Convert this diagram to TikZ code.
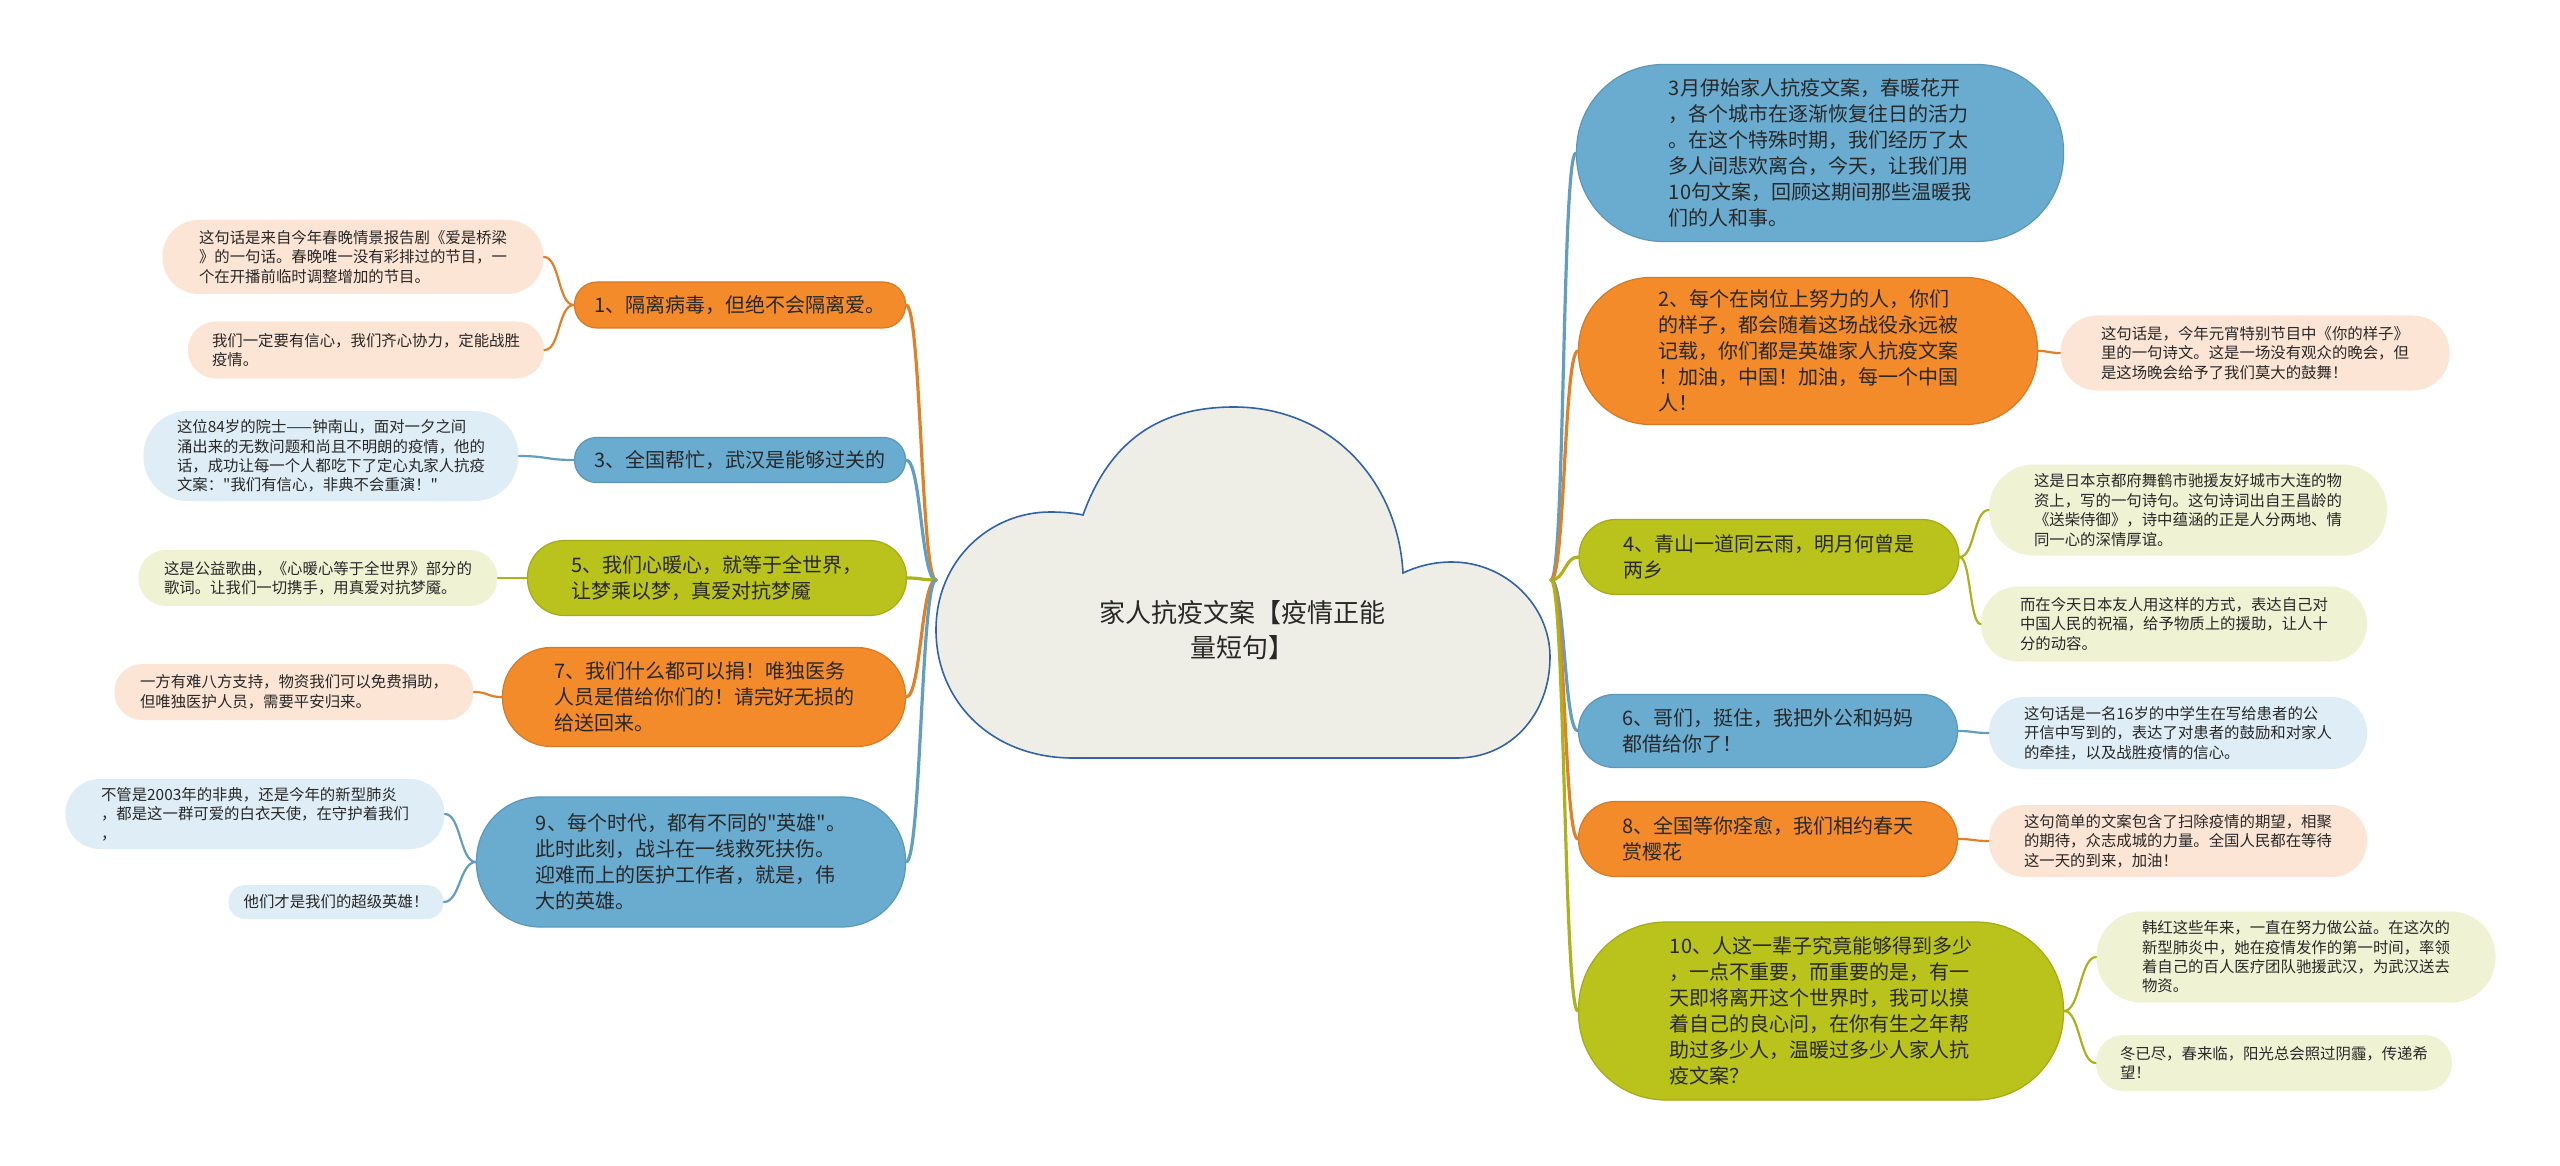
\documentclass[tikz,border=0pt]{standalone}
\usepackage{fontspec}
\newfontfamily\cjkfont{Noto Sans CJK SC}
\usetikzlibrary{positioning}
\definecolor{mapOrange}{RGB}{243,139,42}
\definecolor{mapBlue}{RGB}{106,172,208}
\definecolor{mapGreen}{RGB}{186,194,28}
\definecolor{leafOrange}{RGB}{252,229,213}
\definecolor{leafBlue}{RGB}{222,237,246}
\definecolor{leafGreen}{RGB}{240,242,212}
\definecolor{cloudFill}{RGB}{238,238,230}
\definecolor{cloudLine}{RGB}{50,100,165}
\definecolor{inkGrey}{RGB}{40,40,40}

\begin{document}
\begin{tikzpicture}[
  x=0.5pt, y=-0.5pt,
  boxsize/.style 2 args={minimum width=#1, minimum height=#2, rounded corners=#2*0.49},
  topic/.style={draw=#1!88!black, fill=#1, line width=0.6pt, align=left, inner sep=0pt,
                text=inkGrey, font=\cjkfont\fontsize{10pt}{13pt}\selectfont},
  leaf/.style={fill=#1, align=left, inner sep=0pt, text=inkGrey,
               font=\cjkfont\fontsize{7.7pt}{9.7pt}\selectfont},
  link/.style={draw=#1!92!black, line width=1.6pt, line cap=round},
  twig/.style={draw=#1!92!black, line width=1.1pt, line cap=round}
]
\fill[white] (0,0) rectangle (2560,1166);
\useasboundingbox (0,0) rectangle (2560,1166);

% centre cloud
\draw[fill=cloudFill, draw=cloudLine, line width=0.8pt]
  (1073,758) .. controls (990,758) and (936,700) .. (936,630)
  .. controls (936,560) and (990,512) .. (1050,512)
  .. controls (1062,512) and (1074,513) .. (1083,515)
  .. controls (1110,440) and (1160,407) .. (1234,407)
  .. controls (1330,407) and (1398,480) .. (1403,573)
  .. controls (1420,565) and (1436,562) .. (1452,562)
  .. controls (1505,562) and (1550,605) .. (1550,657)
  .. controls (1550,715) and (1510,758) .. (1457,758) -- cycle;
\node[align=center, text=inkGrey, font=\cjkfont\fontsize{13pt}{17.5pt}\selectfont]
  (title) at (1242,630) {家人抗疫文案【疫情正能\\量短句】};
\coordinate (rootL) at (936,580);
\coordinate (rootR) at (1551,580);

% left topics
\node[topic=mapOrange, boxsize={165.5pt}{23pt}] (n1) at (740,305) {1、隔离病毒，但绝不会隔离爱。};
\node[topic=mapBlue, boxsize={165.5pt}{22.5pt}] (n3) at (740,460) {3、全国帮忙，武汉是能够过关的};
\node[topic=mapGreen, boxsize={189.5pt}{37.5pt}] (n5) at (717,578) {5、我们心暖心，就等于全世界，\\让梦乘以梦，真爱对抗梦魇};
\node[topic=mapOrange, boxsize={201.5pt}{49.5pt}] (n7) at (704,697) {7、我们什么都可以捐！唯独医务\\人员是借给你们的！请完好无损的\\给送回来。};
\node[topic=mapBlue, boxsize={214.5pt}{65pt}] (n9) at (691,862) {9、每个时代，都有不同的"英雄"。\\此时此刻，战斗在一线救死扶伤。\\迎难而上的医护工作者，就是，伟\\大的英雄。};

% left leaves
\node[leaf=leafOrange, boxsize={190.5pt}{37pt}] (l1a) at (353,257) {这句话是来自今年春晚情景报告剧《爱是桥梁\\》的一句话。春晚唯一没有彩排过的节目，一\\个在开播前临时调整增加的节目。};
\node[leaf=leafOrange, boxsize={178pt}{28.5pt}] (l1b) at (366,350) {我们一定要有信心，我们齐心协力，定能战胜\\疫情。};
\node[leaf=leafBlue, boxsize={187.5pt}{45pt}] (l3a) at (331,456) {这位84岁的院士——钟南山，面对一夕之间\\涌出来的无数问题和尚且不明朗的疫情，他的\\话，成功让每一个人都吃下了定心丸家人抗疫\\文案："我们有信心，非典不会重演！"};
\node[leaf=leafGreen, boxsize={179.5pt}{28pt}] (l5a) at (318,578) {这是公益歌曲，《心暖心等于全世界》部分的\\歌词。让我们一切携手，用真爱对抗梦魇。};
\node[leaf=leafOrange, boxsize={179.5pt}{28pt}] (l7a) at (294,692) {一方有难八方支持，物资我们可以免费捐助，\\但唯独医护人员，需要平安归来。};
\node[leaf=leafBlue, boxsize={189.5pt}{35pt}] (l9a) at (255,814) {不管是2003年的非典，还是今年的新型肺炎\\，都是这一群可爱的白衣天使，在守护着我们\\，};
\node[leaf=leafBlue, boxsize={107.5pt}{17pt}] (l9b) at (336,902) {他们才是我们的超级英雄！};

% right topics
\node[topic=mapBlue, boxsize={243.5pt}{88.5pt}] (r0) at (1820,153) {3月伊始家人抗疫文案，春暖花开\\，各个城市在逐渐恢复往日的活力\\。在这个特殊时期，我们经历了太\\多人间悲欢离合，今天，让我们用\\10句文案，回顾这期间那些温暖我\\们的人和事。};
\node[topic=mapOrange, boxsize={229.5pt}{73.5pt}] (r2) at (1808,351) {2、每个在岗位上努力的人，你们\\的样子，都会随着这场战役永远被\\记载，你们都是英雄家人抗疫文案\\！加油，中国！加油，每一个中国\\人！};
\node[topic=mapGreen, boxsize={190pt}{37.5pt}] (r4) at (1769,557) {4、青山一道同云雨，明月何曾是\\两乡};
\node[topic=mapBlue, boxsize={189.5pt}{36.5pt}] (r6) at (1768,731) {6、哥们，挺住，我把外公和妈妈\\都借给你了！};
\node[topic=mapOrange, boxsize={189.5pt}{37.5pt}] (r8) at (1768,839) {8、全国等你痊愈，我们相约春天\\赏樱花};
\node[topic=mapGreen, boxsize={242.5pt}{89pt}] (r10) at (1821,1011) {10、人这一辈子究竟能够得到多少\\，一点不重要，而重要的是，有一\\天即将离开这个世界时，我可以摸\\着自己的良心问，在你有生之年帮\\助过多少人，温暖过多少人家人抗\\疫文案？};

% right leaves
\node[leaf=leafOrange, boxsize={194.5pt}{37.5pt}] (r2a) at (2255,353) {这句话是，今年元宵特别节目中《你的样子》\\里的一句诗文。这是一场没有观众的晚会，但\\是这场晚会给予了我们莫大的鼓舞！};
\node[leaf=leafGreen, boxsize={199pt}{45.5pt}] (r4a) at (2188,510) {这是日本京都府舞鹤市驰援友好城市大连的物\\资上，写的一句诗句。这句诗词出自王昌龄的\\《送柴侍御》，诗中蕴涵的正是人分两地、情\\同一心的深情厚谊。};
\node[leaf=leafGreen, boxsize={193pt}{37.5pt}] (r4b) at (2174,624) {而在今天日本友人用这样的方式，表达自己对\\中国人民的祝福，给予物质上的援助，让人十\\分的动容。};
\node[leaf=leafBlue, boxsize={189pt}{36pt}] (r6a) at (2178,733) {这句话是一名16岁的中学生在写给患者的公\\开信中写到的，表达了对患者的鼓励和对家人\\的牵挂，以及战胜疫情的信心。};
\node[leaf=leafOrange, boxsize={189pt}{36pt}] (r8a) at (2178,841) {这句简单的文案包含了扫除疫情的期望，相聚\\的期待，众志成城的力量。全国人民都在等待\\这一天的到来，加油！};
\node[leaf=leafGreen, boxsize={199.5pt}{45.5pt}] (r10a) at (2296,957) {韩红这些年来，一直在努力做公益。在这次的\\新型肺炎中，她在疫情发作的第一时间，率领\\着自己的百人医疗团队驰援武汉，为武汉送去\\物资。};
\node[leaf=leafGreen, boxsize={178pt}{28pt}] (r10b) at (2274,1063) {冬已尽，春来临，阳光总会照过阴霾，传递希\\望！};

% branches from the cloud
\draw[link=mapOrange] (rootL) .. controls +(-15,0) and +(15,0) .. (n1.east);
\draw[link=mapBlue] (rootL) .. controls +(-15,0) and +(15,0) .. (n3.east);
\draw[link=mapGreen] (rootL) .. controls +(-15,0) and +(15,0) .. (n5.east);
\draw[link=mapOrange] (rootL) .. controls +(-15,0) and +(15,0) .. (n7.east);
\draw[link=mapBlue] (rootL) .. controls +(-15,0) and +(15,0) .. (n9.east);
\draw[link=mapBlue] (rootR) .. controls +(14,0) and +(-14,0) .. (r0.west);
\draw[link=mapOrange] (rootR) .. controls +(14,0) and +(-14,0) .. (r2.west);
\draw[link=mapGreen] (rootR) .. controls +(14,0) and +(-14,0) .. (r4.west);
\draw[link=mapBlue] (rootR) .. controls +(14,0) and +(-14,0) .. (r6.west);
\draw[link=mapOrange] (rootR) .. controls +(14,0) and +(-14,0) .. (r8.west);
\draw[link=mapGreen] (rootR) .. controls +(14,0) and +(-14,0) .. (r10.west);

% twigs to the notes
\draw[twig=mapOrange] (n1.west) .. controls +(-16,0) and +(16,0) .. (l1a.east);
\draw[twig=mapOrange] (n1.west) .. controls +(-16,0) and +(16,0) .. (l1b.east);
\draw[twig=mapBlue] (n3.west) .. controls +(-28,0) and +(28,0) .. (l3a.east);
\draw[twig=mapGreen] (n5.west) .. controls +(-14,0) and +(14,0) .. (l5a.east);
\draw[twig=mapOrange] (n7.west) .. controls +(-15,0) and +(15,0) .. (l7a.east);
\draw[twig=mapBlue] (n9.west) .. controls +(-16,0) and +(16,0) .. (l9a.east);
\draw[twig=mapBlue] (n9.west) .. controls +(-16,0) and +(16,0) .. (l9b.east);
\draw[twig=mapOrange] (r2.east) .. controls +(11,0) and +(-11,0) .. (r2a.west);
\draw[twig=mapGreen] (r4.east) .. controls +(15,0) and +(-15,0) .. (r4a.west);
\draw[twig=mapGreen] (r4.east) .. controls +(11,0) and +(-11,0) .. (r4b.west);
\draw[twig=mapBlue] (r6.east) .. controls +(15,0) and +(-15,0) .. (r6a.west);
\draw[twig=mapOrange] (r8.east) .. controls +(15,0) and +(-15,0) .. (r8a.west);
\draw[twig=mapGreen] (r10.east) .. controls +(16,0) and +(-16,0) .. (r10a.west);
\draw[twig=mapGreen] (r10.east) .. controls +(16,0) and +(-16,0) .. (r10b.west);
\end{tikzpicture}
\end{document}
